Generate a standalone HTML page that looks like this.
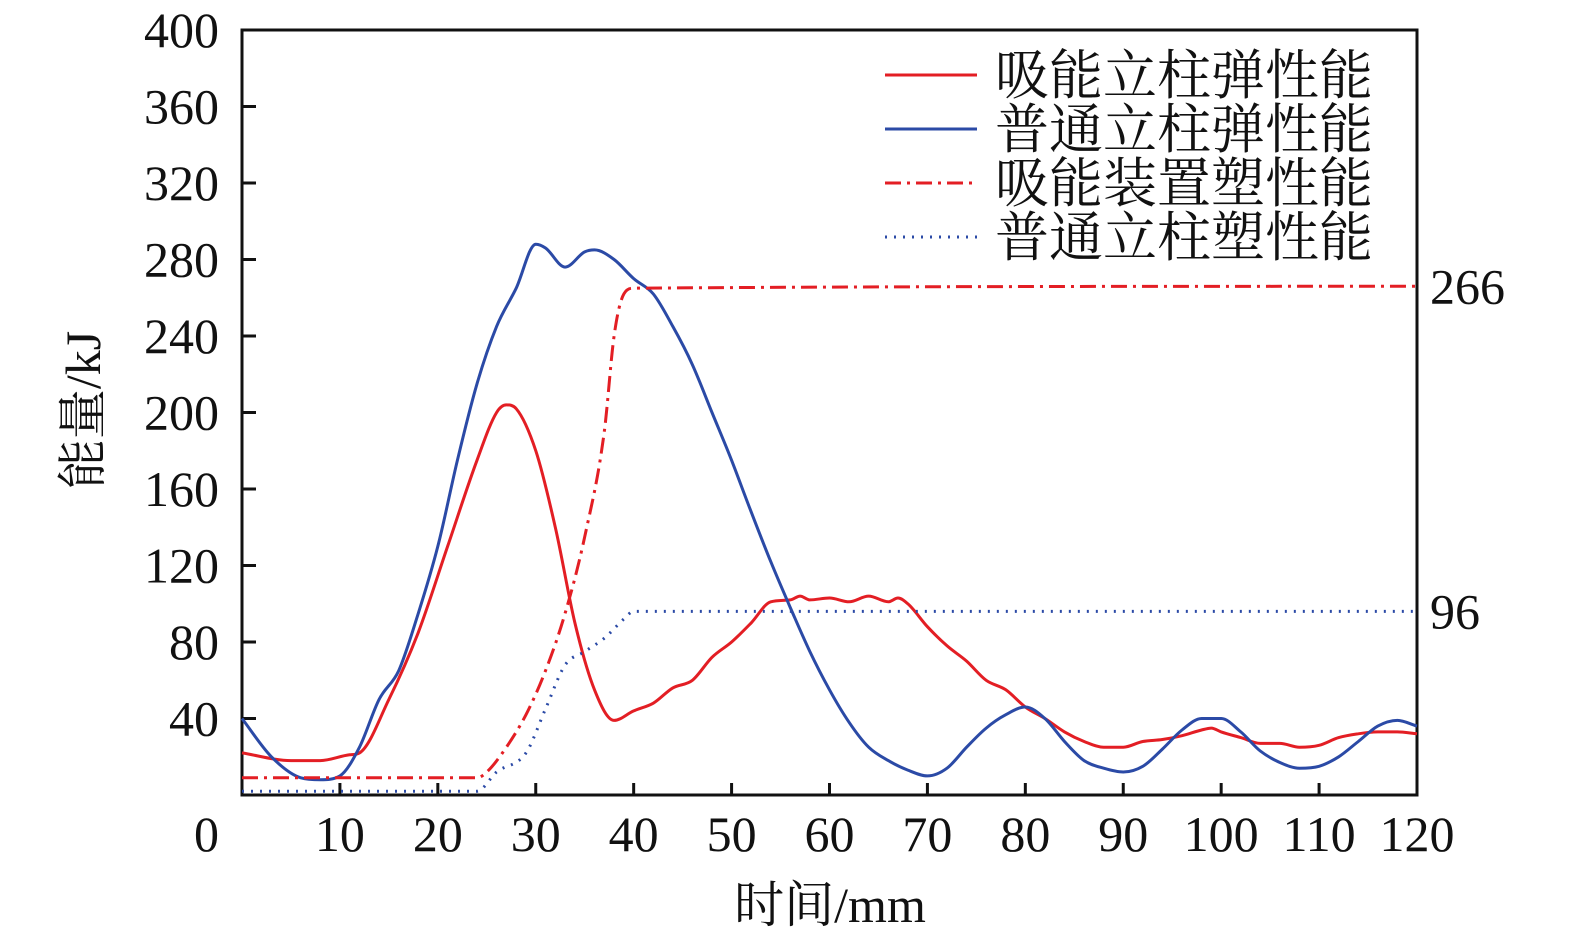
<!DOCTYPE html>
<html><head><meta charset="utf-8"><style>
html,body{margin:0;padding:0;background:#fff;}
svg text{font-family:"Liberation Serif","Noto Serif CJK SC",serif;fill:#111;}
</style></head><body>
<svg width="1575" height="943" viewBox="0 0 1575 943">
<g id="axes"></g><g id="series"></g><g id="legend"></g>
</svg>
<script>
const xTicks=[10,20,30,40,50,60,70,80,90,100,110,120];
const yTicks=[40,80,120,160,200,240,280,320,360,400];
const redSolidX=[0,5,8,11,12,15,18,21,24,26,27,28,30,32,34,36,38,40,42,44,46,48,50,52,54,56,57,58,60,62,64,66,67,68,70,72,74,76,78,80,82,84,86,88,90,92,94,96,98,99,100,102,104,106,108,110,112,114,116,118,120];
const redSolidY=[22,18,18,21,22,50,85,130,175,200,204,202,180,140,90,55,39,44,48,56,60,72,80,90,101,102,104,102,103,101,104,101,103,100,88,78,70,60,55,46,40,33,28,25,25,28,29,31,34,35,33,30,27,27,25,26,30,32,33,33,32];
const blueSolidX=[0,3,6,8,10,12,14,16,18,20,22,24,26,28,30,31,33,35,36,38,40,42,44,46,48,50,52,54,56,58,60,62,64,66,68,70,72,74,76,78,80,82,84,86,88,90,92,94,96,98,100,102,104,106,108,110,112,114,116,118,120];
const blueSolidY=[40,20,9,8,10,25,50,65,95,130,175,215,245,265,288,286,276,284,285,280,270,262,245,225,200,175,148,122,98,75,55,38,25,18,13,10,14,25,35,42,46,40,28,18,14,12,15,24,34,40,40,33,23,17,14,15,20,28,36,39,36];
const redDashX=[0,24,25,27,29,31,33,35,37,38,39,40,120];
const redDashY=[9,9,12,25,42,65,95,135,190,240,262,265,266];
const blueDotX=[0,24,26,29,31,33,35,37,39,40,120];
const blueDotY=[2,2,12,22,45,68,75,82,92,96,96];
const legendLabels=["吸能立柱弹性能","普通立柱弹性能","吸能装置塑性能","普通立柱塑性能"];
const endLabels=[266,96];

const X0=242,X1=1417,Y0=795,Y1=30;
const sx=v=>X0+(X1-X0)*v/120;
const sy=v=>Y0-(Y0-Y1)*v/400;
const NS="http://www.w3.org/2000/svg";
function mk(tag,parent,attrs){const e=document.createElementNS(NS,tag);for(const k in attrs)e.setAttribute(k,attrs[k]);parent.appendChild(e);return e;}
function smooth(p){
 const n=p.length,m=[],t=[];
 for(let i=0;i<n-1;i++)m.push((p[i+1][1]-p[i][1])/(p[i+1][0]-p[i][0]));
 for(let i=0;i<n;i++){
  if(i===0)t.push(m[0]);else if(i===n-1)t.push(m[n-2]);
  else t.push(m[i-1]*m[i]<=0?0:(m[i-1]+m[i])/2);
 }
 for(let i=0;i<n-1;i++){if(m[i]===0){t[i]=0;t[i+1]=0;continue;}
  const a=t[i]/m[i],b=t[i+1]/m[i],s=a*a+b*b;if(s>9){const k=3/Math.sqrt(s);t[i]=k*a*m[i];t[i+1]=k*b*m[i];}}
 let d='M'+p[0][0].toFixed(1)+','+p[0][1].toFixed(1);
 for(let i=0;i<n-1;i++){const h=(p[i+1][0]-p[i][0])/3;
  d+='C'+(p[i][0]+h).toFixed(1)+','+(p[i][1]+t[i]*h).toFixed(1)+' '+(p[i+1][0]-h).toFixed(1)+','+(p[i+1][1]-t[i+1]*h).toFixed(1)+' '+p[i+1][0].toFixed(1)+','+p[i+1][1].toFixed(1);}
 return d;}
const axes=document.getElementById('axes'),ser=document.getElementById('series'),leg=document.getElementById('legend');

const frame=mk('rect',axes,{x:X0,y:Y1,width:X1-X0,height:Y0-Y1,fill:'none',stroke:'#111','stroke-width':3});


xTicks.forEach(v=>{
 const l=mk('line',axes,{x1:sx(v),x2:sx(v),y1:Y0,y2:Y0-12,stroke:'#111','stroke-width':3});
 
 
 const t=mk('text',axes,{x:sx(v),y:851,'text-anchor':'middle','font-size':50});
 t.textContent=v;
 
 
});
yTicks.forEach(v=>{
 const l=mk('line',axes,{x1:X0,x2:X0+14,y1:sy(v),y2:sy(v),stroke:'#111','stroke-width':3});
 
 
 const t=mk('text',axes,{x:219,y:sy(v)+17,'text-anchor':'end','font-size':50});
 t.textContent=v;
 
 
});
const z=mk('text',axes,{x:219,y:851,'text-anchor':'end','font-size':50});z.textContent='0';


const xt=mk('text',axes,{x:830,y:922,'text-anchor':'middle','font-size':50});xt.textContent='时间/mm';


const yt=mk('text',axes,{x:0,y:0,'text-anchor':'middle','font-size':50,transform:'translate(100,410) rotate(-90)'});yt.textContent='能量/kJ';



const styles=[
 {x:redSolidX,y:redSolidY,c:'#e31e24',d:'',n:'series-absorb-column-elastic'},
 {x:blueSolidX,y:blueSolidY,c:'#2b4aa6',d:'',n:'series-normal-column-elastic'},
 {x:redDashX,y:redDashY,c:'#e31e24',d:'16 6 3 6',n:'series-absorb-device-plastic'},
 {x:blueDotX,y:blueDotY,c:'#2b4aa6',d:'2 7',n:'series-normal-column-plastic'}];
styles.forEach((s,i)=>{
 const pts=s.x.map((v,j)=>[sx(v),sy(s.y[j])]);
 const p=mk('path',ser,{d:smooth(pts),fill:'none',stroke:s.c,'stroke-width':3,'stroke-dasharray':s.d,'stroke-linejoin':'round'});
 
 
 const ly=75+i*54;
 const ll=mk('line',leg,{x1:885,x2:977,y1:ly,y2:ly,stroke:s.c,'stroke-width':3,'stroke-dasharray':s.d});
 
 
 const lt=mk('text',leg,{x:995,y:ly+19,'font-size':54});lt.textContent=legendLabels[i];
 
 
});
endLabels.forEach(v=>{
 const t=mk('text',axes,{x:1430,y:sy(v)+17,'font-size':50});t.textContent=v;
 
 
});
</script>
</body></html>
